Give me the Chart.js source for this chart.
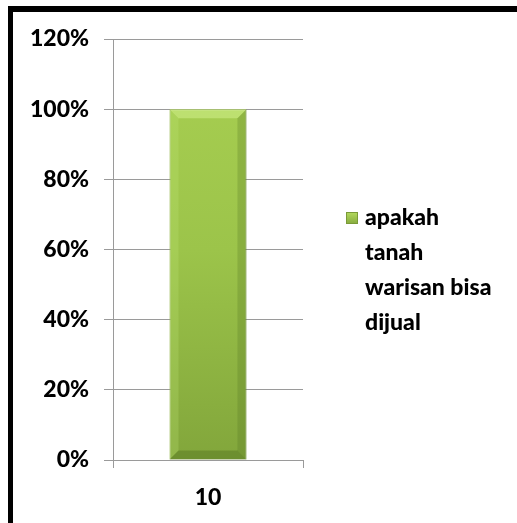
<!DOCTYPE html>
<html>
<head>
<meta charset="utf-8">
<script src="https://cdn.jsdelivr.net/npm/chart.js@4.4.0/dist/chart.umd.min.js"></script>
<style>
    html, body { margin: 0; padding: 0; background: #fff; overflow: hidden; }
    #wrap { position: relative; width: 517px; height: 523px; }
    #frame {
        position: absolute; left: 8px; top: 6px; width: 600px; height: 600px;
        border-left: 5px solid #000; border-top: 6px solid #000; box-sizing: border-box;
    }
    canvas { position: absolute; left: 0; top: 0; }
</style>
</head>
<body>
<div id="wrap">
    <canvas id="chart" width="517" height="523"></canvas>
    <div id="frame"></div>
</div>
<script>
const categories = ['10'];
const seriesLabel = 'apakah tanah warisan bisa dijual';
const seriesValues = [1.0];
const legendLines = ['apakah', 'tanah', 'warisan bisa', 'dijual'];
const yTicks = [0, 0.2, 0.4, 0.6, 0.8, 1.0, 1.2];

const FONT = 'Lato, Calibri, sans-serif';

// Legend drawn next to the plot, wrapped like the original
const sideLegend = {
    id: 'sideLegend',
    afterDraw(chart) {
        const ctx = chart.ctx;
        const x = 346, y = 212;
        const g = ctx.createLinearGradient(0, y, 0, y + 12);
        g.addColorStop(0, '#b4da5e');
        g.addColorStop(1, '#86aa3e');
        ctx.save();
        ctx.fillStyle = g;
        ctx.fillRect(x, y, 12, 12);
        ctx.strokeStyle = '#7a9a38';
        ctx.strokeRect(x + 0.5, y + 0.5, 11, 11);
        ctx.fillStyle = '#000';
        ctx.font = '900 23px ' + FONT;
        ctx.textBaseline = 'middle';
        legendLines.forEach((line, i) => {
            ctx.fillText(line, 365, 218 + i * 35);
        });
        ctx.restore();
    }
};

// Soft bevel on the bar edges, using the bar element's own geometry
const bevel = {
    id: 'bevel',
    afterDatasetsDraw(chart) {
        const ctx = chart.ctx;
        chart.getDatasetMeta(0).data.forEach(bar => {
            const l = bar.x - bar.width / 2, r = bar.x + bar.width / 2;
            const t = bar.y, b = bar.base, d = 9;
            ctx.save();
            ctx.fillStyle = 'rgba(210,240,140,0.55)';
            ctx.beginPath();
            ctx.moveTo(l, t); ctx.lineTo(r, t); ctx.lineTo(r - d, t + d); ctx.lineTo(l + d, t + d);
            ctx.closePath(); ctx.fill();
            ctx.fillStyle = 'rgba(80,110,30,0.25)';
            ctx.beginPath();
            ctx.moveTo(r, t); ctx.lineTo(r, b); ctx.lineTo(r - d, b - d); ctx.lineTo(r - d, t + d);
            ctx.closePath(); ctx.fill();
            ctx.fillStyle = 'rgba(190,230,120,0.25)';
            ctx.beginPath();
            ctx.moveTo(l, t); ctx.lineTo(l, b); ctx.lineTo(l + d, b - d); ctx.lineTo(l + d, t + d);
            ctx.closePath(); ctx.fill();
            ctx.fillStyle = 'rgba(60,90,20,0.3)';
            ctx.beginPath();
            ctx.moveTo(l, b); ctx.lineTo(r, b); ctx.lineTo(r - d, b - d); ctx.lineTo(l + d, b - d);
            ctx.closePath(); ctx.fill();
            ctx.restore();
        });
    }
};

const ctx = document.getElementById('chart').getContext('2d');

function barGradient(context) {
    const area = context.chart.chartArea;
    if (!area) return '#9bbb59';
    const g = context.chart.ctx.createLinearGradient(0, area.top, 0, area.bottom);
    g.addColorStop(0, '#a9d052');
    g.addColorStop(0.5, '#9cc44a');
    g.addColorStop(1, '#82a63b');
    return g;
}

new Chart(ctx, {
    type: 'bar',
    data: {
        labels: categories,
        datasets: [{
            label: seriesLabel,
            data: seriesValues,
            backgroundColor: barGradient,
            borderColor: '#7e9f3a',
            borderWidth: 1,
            barPercentage: 0.405,
            categoryPercentage: 1
        }]
    },
    options: {
        responsive: false,
        animation: false,
        layout: { padding: { left: 0, right: 214, top: 39, bottom: 0 } },
        plugins: {
            legend: { display: false },
            tooltip: { enabled: false }
        },
        scales: {
            x: {
                grid: {
                    offset: true,
                    drawOnChartArea: false,
                    color: '#9a9a9a',
                    tickLength: 8
                },
                border: { color: '#9a9a9a' },
                ticks: {
                    color: '#000',
                    font: { family: FONT, weight: '900', size: 23 },
                    padding: 16
                },
                afterFit: s => { s.height = 63; }
            },
            y: {
                min: 0,
                max: 1.2,
                afterBuildTicks: s => { s.ticks = yTicks.map(v => ({ value: v })); },
                grid: { color: '#9a9a9a', tickLength: 9 },
                border: { color: '#9a9a9a' },
                ticks: {
                    color: '#000',
                    font: { family: FONT, weight: '900', size: 23 },
                    padding: 15,
                    callback: v => Math.round(v * 100) + '%'
                },
                afterFit: s => { s.width = 113; }
            }
        }
    },
    plugins: [sideLegend, bevel]
});
</script>
</body>
</html>
